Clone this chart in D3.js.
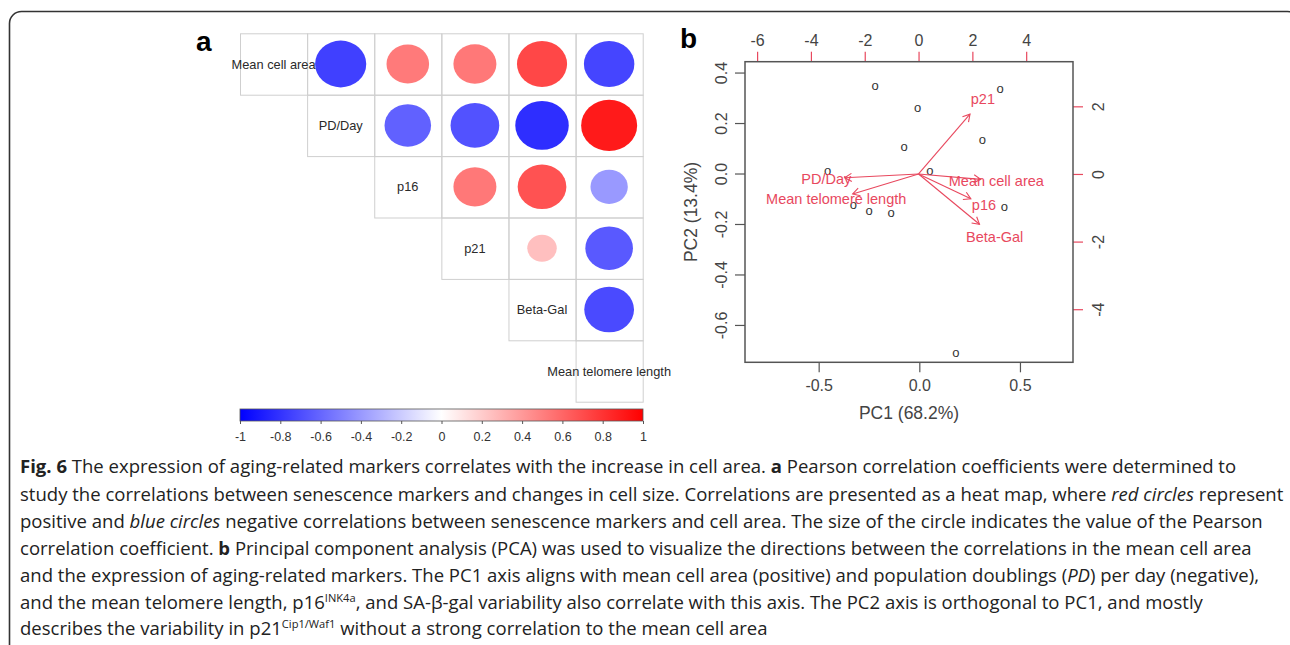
<!DOCTYPE html>
<html><head><meta charset="utf-8">
<script src="https://cdn.jsdelivr.net/npm/d3@7"></script>
<style>body{margin:0;background:#fff}svg{display:block}</style>
</head><body>
<svg id="c" width="1290" height="645"></svg>
<script>
// ---------- DATA ----------
const variables = ["Mean cell area", "PD/Day", "p16", "p21", "Beta-Gal", "Mean telomere length"];
// upper-triangle Pearson correlations (row i, column j > i); null on/below diagonal
const corrMeanCellArea = [null, -0.75, 0.52, 0.53, 0.72, -0.73];
const corrPDDay        = [null, null, -0.62, -0.68, -0.82, 0.90];
const corrP16          = [null, null, null, 0.53, 0.68, -0.40];
const corrP21          = [null, null, null, null, 0.25, -0.65];
const corrBetaGal      = [null, null, null, null, null, -0.71];
const corrTelomere     = [null, null, null, null, null, null];
const colorbarTicks = [-1, -0.8, -0.6, -0.4, -0.2, 0, 0.2, 0.4, 0.6, 0.8, 1];

const pc1Scores = [-0.22, -0.008, 0.401, 0.313, -0.075, -0.455, 0.053, -0.328, -0.25, -0.14, 0.422, 0.181];
const pc2Scores = [0.347, 0.262, 0.337, 0.133, 0.106, 0.013, 0.011, -0.122, -0.147, -0.155, -0.131, -0.71];
const loadingNames = ["Mean cell area", "PD/Day", "p16", "p21", "Beta-Gal", "Mean telomere length"];
const loadingPC1 = [2.89, -3.43, 2.43, 2.39, 2.83, -3.06];
const loadingPC2 = [-0.20, -0.14, -0.92, 2.21, -1.86, -0.74];
const pc1Ticks = [-0.5, 0, 0.5];
const pc2Ticks = [-0.6, -0.4, -0.2, 0, 0.2, 0.4];
const topTicks = [-6, -4, -2, 0, 2, 4];
const rightTicks = [-4, -2, 0, 2];

const captionLines = [
  [["Fig. 6", "b"], [" The expression of aging-related markers correlates with the increase in cell area. ", ""], ["a", "b"], [" Pearson correlation coefficients were determined to", ""]],
  [["study the correlations between senescence markers and changes in cell size. Correlations are presented as a heat map, where ", ""], ["red circles", "i"], [" represent", ""]],
  [["positive and ", ""], ["blue circles", "i"], [" negative correlations between senescence markers and cell area. The size of the circle indicates the value of the Pearson", ""]],
  [["correlation coefficient. ", ""], ["b", "b"], [" Principal component analysis (PCA) was used to visualize the directions between the correlations in the mean cell area", ""]],
  [["and the expression of aging-related markers. The PC1 axis aligns with mean cell area (positive) and population doublings (", ""], ["PD", "i"], [") per day (negative),", ""]],
  [["and the mean telomere length, p16", ""], ["INK4a", "sup"], [", and SA-β-gal variability also correlate with this axis. The PC2 axis is orthogonal to PC1, and mostly", ""]],
  [["describes the variability in p21", ""], ["Cip1/Waf1", "sup"], [" without a strong correlation to the mean cell area", ""]]
];

// ---------- DRAW ----------
const svg = d3.select("#c");
const FONT = "'Liberation Sans', Arial, sans-serif";

// outer frame
svg.append("rect").attr("x", 9.5).attr("y", 11.5).attr("width", 1290).attr("height", 700)
  .attr("rx", 12).attr("fill", "none").attr("stroke", "#333").attr("stroke-width", 1.6);

// ----- panel a -----
svg.append("text").attr("x", 196).attr("y", 51).attr("font-family", FONT).attr("font-weight", "bold")
  .attr("font-size", 28).attr("fill", "#000").text("a");

const corr = [corrMeanCellArea, corrPDDay, corrP16, corrP21, corrBetaGal, corrTelomere];
const colX = d3.scaleBand().domain(variables).range([240, 642.7]);
const rowY = d3.scaleBand().domain(variables).range([33.3, 401.7]);
const color = d3.scaleLinear().domain([-1, 0, 1]).range(["#0000ff", "#ffffff", "#ff0000"]);

const cells = [];
variables.forEach((rv, i) => variables.forEach((cv, j) => {
  if (j >= i) cells.push({row: rv, col: cv, i, j, r: corr[i][j]});
}));
const ga = svg.append("g");
ga.selectAll("rect.cell").data(cells).join("rect").attr("class", "cell")
  .attr("x", d => colX(d.col) + 0.5).attr("y", d => rowY(d.row) + 0.5)
  .attr("width", colX.bandwidth()).attr("height", rowY.bandwidth())
  .attr("fill", "none").attr("stroke", "#cfcfcf").attr("stroke-width", 1);
ga.selectAll("ellipse").data(cells.filter(d => d.r != null)).join("ellipse")
  .attr("cx", d => colX(d.col) + colX.bandwidth() / 2)
  .attr("cy", d => rowY(d.row) + rowY.bandwidth() / 2)
  .attr("rx", d => Math.sqrt(Math.abs(d.r)) * colX.bandwidth() * 0.44)
  .attr("ry", d => Math.sqrt(Math.abs(d.r)) * rowY.bandwidth() * 0.44)
  .attr("fill", d => color(d.r));
ga.selectAll("text.diag").data(cells.filter(d => d.i === d.j)).join("text").attr("class", "diag")
  .attr("x", d => colX(d.col) + colX.bandwidth() / 2)
  .attr("y", d => rowY(d.row) + rowY.bandwidth() / 2)
  .attr("text-anchor", "middle").attr("dominant-baseline", "central")
  .attr("font-family", FONT).attr("font-size", 12.8).attr("fill", "#2a2a2a").text(d => d.row);

// colorbar
const cb = d3.scaleLinear().domain([-1, 1]).range([240, 643]);
const defs = svg.append("defs");
const grad = defs.append("linearGradient").attr("id", "cbg");
grad.selectAll("stop").data(colorbarTicks).join("stop")
  .attr("offset", d => (d + 1) / 2).attr("stop-color", d => color(d));
svg.append("rect").attr("x", cb(-1)).attr("y", 409).attr("width", cb(1) - cb(-1)).attr("height", 12)
  .attr("fill", "url(#cbg)").attr("stroke", "#555").attr("stroke-width", 0.8);
const cbAxis = svg.append("g").attr("transform", "translate(0,421)")
  .call(d3.axisBottom(cb).tickValues(colorbarTicks).tickSize(3).tickFormat(d => String(+d.toFixed(1))));
cbAxis.select(".domain").remove();
cbAxis.selectAll("line").attr("stroke", "#555");
cbAxis.selectAll("text").attr("y", 16).attr("dy", "0.35em").attr("font-family", FONT)
  .attr("font-size", 12.5).attr("fill", "#333");

// ----- panel b -----
svg.append("text").attr("x", 680).attr("y", 48).attr("font-family", FONT).attr("font-weight", "bold")
  .attr("font-size", 28).attr("fill", "#000").text("b");

const L = 745, R = 1073, T = 61.7, B = 362.3;
const x = d3.scaleLinear().domain([-0.866, 0.7635]).range([L, R]);
const y = d3.scaleLinear().domain([-0.748, 0.443]).range([B, T]);
const xt = d3.scaleLinear().domain([-6.45, 5.74]).range([L, R]);
const yr = d3.scaleLinear().domain([-5.57, 3.32]).range([B, T]);
const RED = "#e8485e";
const AX = "#555";

function styleAxis(g, tickColor) {
  g.select(".domain").remove();
  g.selectAll("line").attr("stroke", tickColor).attr("stroke-width", 1.2);
  g.selectAll("text").attr("font-family", FONT).attr("font-size", 16).attr("fill", "#444");
}
const fmt1 = v => (Math.abs(v) < 1e-9 ? 0 : v).toFixed(1);

const bAx = svg.append("g").attr("transform", `translate(0,${B})`)
  .call(d3.axisBottom(x).tickValues(pc1Ticks).tickSize(10).tickFormat(fmt1));
styleAxis(bAx, AX);
bAx.selectAll("text").attr("y", 23.5).attr("dy", "0.35em");

const lAx = svg.append("g").attr("transform", `translate(${L},0)`)
  .call(d3.axisLeft(y).tickValues(pc2Ticks).tickSize(10).tickFormat(fmt1));
styleAxis(lAx, AX);
lAx.selectAll("text").attr("x", null).attr("dy", null).attr("text-anchor", "middle")
  .attr("dominant-baseline", "central").attr("transform", "translate(-24,0) rotate(-90)");

const tAx = svg.append("g").attr("transform", `translate(0,${T})`)
  .call(d3.axisTop(xt).tickValues(topTicks).tickSize(10).tickFormat(d => String(d)));
styleAxis(tAx, RED);
tAx.selectAll("text").attr("y", -21).attr("dy", null).attr("dominant-baseline", "central");

const rAx = svg.append("g").attr("transform", `translate(${R},0)`)
  .call(d3.axisRight(yr).tickValues(rightTicks).tickSize(10).tickFormat(d => String(d)));
styleAxis(rAx, RED);
rAx.selectAll("text").attr("x", null).attr("dy", null).attr("text-anchor", "middle")
  .attr("dominant-baseline", "central").attr("transform", "translate(25,0) rotate(-90)");

svg.append("rect").attr("x", L).attr("y", T).attr("width", R - L).attr("height", B - T)
  .attr("fill", "none").attr("stroke", AX).attr("stroke-width", 1.5);

svg.append("text").attr("x", (L + R) / 2).attr("y", 413).attr("text-anchor", "middle")
  .attr("dominant-baseline", "central").attr("font-family", FONT).attr("font-size", 17.5)
  .attr("fill", "#444").text("PC1 (68.2%)");
svg.append("text").attr("transform", `translate(691,${(T + B) / 2}) rotate(-90)`).attr("text-anchor", "middle")
  .attr("dominant-baseline", "central").attr("font-family", FONT).attr("font-size", 17.5)
  .attr("fill", "#444").text("PC2 (13.4%)");

// observation points
svg.append("g").selectAll("text").data(pc1Scores.map((v, i) => [v, pc2Scores[i]])).join("text")
  .attr("x", d => x(d[0])).attr("y", d => y(d[1])).attr("text-anchor", "middle")
  .attr("dominant-baseline", "central").attr("font-family", FONT).attr("font-size", 13)
  .attr("fill", "#333").text("o");

// loadings arrows
const loads = loadingNames.map((n, i) => ({name: n, lx: loadingPC1[i], ly: loadingPC2[i]}));
const ox = xt(0), oy = yr(0);
const ag = svg.append("g").attr("stroke", RED).attr("stroke-width", 1.1).attr("fill", "none");
loads.forEach(d => {
  const ex = xt(0.8 * d.lx), ey = yr(0.8 * d.ly);
  const ang = Math.atan2(ey - oy, ex - ox), hl = 8, ha = Math.PI / 6;
  ag.append("line").attr("x1", ox).attr("y1", oy).attr("x2", ex).attr("y2", ey);
  ag.append("path").attr("d",
    `M${ex - hl * Math.cos(ang - ha)},${ey - hl * Math.sin(ang - ha)}L${ex},${ey}L${ex - hl * Math.cos(ang + ha)},${ey - hl * Math.sin(ang + ha)}`);
});
svg.append("g").selectAll("text").data(loads).join("text")
  .attr("x", d => xt(d.lx)).attr("y", d => yr(d.ly)).attr("text-anchor", "middle")
  .attr("dominant-baseline", "central").attr("font-family", FONT).attr("font-size", 14.5)
  .attr("fill", RED).text(d => d.name);

// ----- caption -----
const capFont = "'Open Sans', 'Noto Sans', sans-serif";
const capBase = [473, 501, 528, 555, 582, 609, 635];
const capNodes = captionLines.map((segs, li) => {
  const t = svg.append("text").attr("x", 0).attr("y", 0).attr("font-family", capFont)
    .attr("font-size", 17.5).attr("fill", "#222");
  segs.forEach(([s, st]) => {
    const ts = t.append("tspan").text(s);
    if (st === "b") ts.attr("font-weight", "bold");
    if (st === "i") ts.attr("font-style", "italic");
    if (st === "sup") { ts.attr("font-size", 10.5).attr("dy", -7); }
  });
  t.selectAll("tspan").each(function (d, k, arr) {
    const prev = arr[k - 1];
    if (prev && d3.select(prev).attr("dy") === "-7") d3.select(this).attr("dy", 7);
  });
  return t;
});
const w1 = capNodes[0].node().getComputedTextLength();
const sx = 1217 / w1;
capNodes.forEach((t, i) => t.attr("transform", `translate(20,${capBase[i]}) scale(${sx},1)`));
</script>
</body></html>
